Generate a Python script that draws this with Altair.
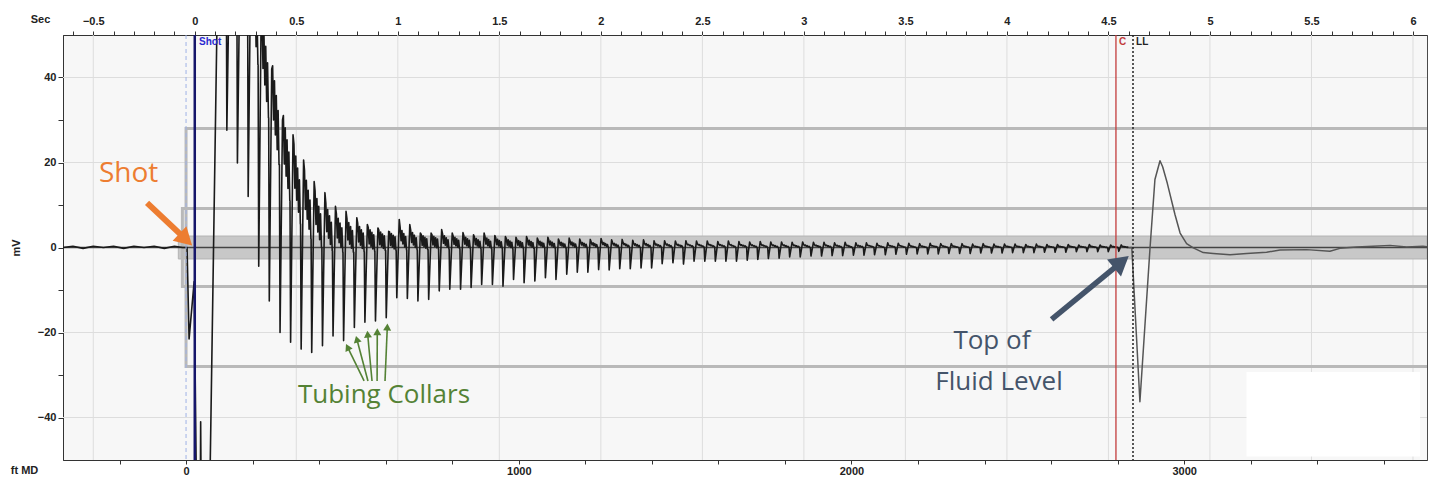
import math
import altair as alt
import pandas as pd

# ---------------- scales / frame ----------------
SEC_DOMAIN = [-0.649, 6.069]
FT_DOMAIN = [-370.0, 3730.0]
MV_DOMAIN = [-50.0, 50.0]
W, H = 1364, 425
PX_T = W / (SEC_DOMAIN[1] - SEC_DOMAIN[0])
PX_V = H / (MV_DOMAIN[1] - MV_DOMAIN[0])

# ---------------- data ----------------
# baseline before the shot (seconds, mV)
pre_t = [-0.649, -0.60, -0.55, -0.50, -0.45, -0.40, -0.35, -0.30, -0.25, -0.20, -0.15, -0.10, -0.06, -0.038]
pre_v = [0.0, 0.3, -0.2, 0.3, 0.0, 0.3, -0.2, 0.3, 0.0, 0.3, -0.2, 0.3, 0.0, 0.0]

# the shot itself (goes off scale)
shot_t = [-0.028, -0.003, 0.011, 0.026, 0.029, 0.033, 0.070, 0.115]
shot_v = [-21.5, -8.0, -70.0, -70.0, -41.0, -70.0, -70.0, 70.0]

# tubing collar reflections: time, spike minimum, rebound peak, level after, noise half-width
collar_t = [
    0.158, 0.210, 0.263, 0.315, 0.367, 0.420, 0.472, 0.524, 0.576, 0.629,
    0.681, 0.733, 0.786, 0.838, 0.890, 0.943, 0.995, 1.047, 1.099, 1.152,
    1.204, 1.256, 1.309, 1.361, 1.413, 1.466, 1.518, 1.570, 1.622, 1.675,
    1.727, 1.779, 1.832, 1.884, 1.936, 1.989, 2.041, 2.093, 2.145, 2.198,
    2.250, 2.302, 2.355, 2.407, 2.459, 2.512, 2.564, 2.616, 2.668, 2.721,
    2.773, 2.825, 2.878, 2.930, 2.982, 3.035, 3.087, 3.139, 3.191, 3.244,
    3.296, 3.348, 3.401, 3.453, 3.505, 3.558, 3.610, 3.662, 3.714, 3.767,
    3.819, 3.871, 3.924, 3.976, 4.028, 4.081, 4.133, 4.185, 4.237, 4.290,
    4.342, 4.394, 4.447, 4.499, 4.551]
collar_min = [
    27.6, 19.9, 12.0, -4.4, -12.6, -20.0, -22.3, -23.9, -24.7, -23.1,
    -20.8, -21.9, -18.8, -17.6, -17.3, -16.5, -11.8, -12.0, -12.6, -12.2,
    -10.2, -9.8, -9.8, -9.4, -8.7, -8.7, -9.1, -7.5, -8.3, -7.9,
    -7.1, -7.5, -6.3, -5.8, -5.8, -5.2, -5.3, -5.0, -5.0, -4.8,
    -4.8, -3.8, -3.6, -3.9, -3.2, -3.2, -3.2, -3.2, -3.2, -3.0,
    -2.8, -2.6, -2.5, -2.2, -2.2, -2.0, -2.0, -1.9, -1.9, -1.8,
    -1.8, -1.7, -1.7, -1.6, -1.6, -1.5, -1.5, -1.5, -1.4, -1.4,
    -1.4, -1.3, -1.3, -1.3, -1.2, -1.2, -1.2, -1.1, -1.1, -1.1,
    -1.0, -1.0, -1.0, -1.0, -0.9]
collar_peak = [
    65, 65, 65, 55, 42, 30, 26.5, 20.6, 15.5, 12.9,
    9.7, 8.5, 7.0, 5.4, 4.6, 3.8, 6.6, 5.4, 3.4, 3.4,
    4.2, 3.4, 3.5, 3.0, 3.4, 2.8, 2.6, 2.4, 2.6, 2.2,
    2.4, 2.0, 2.2, 2.0, 1.9, 2.1, 1.8, 1.9, 1.7, 1.8,
    1.6, 1.6, 1.5, 1.6, 1.5, 1.5, 1.4, 1.5, 1.4, 1.3,
    1.4, 1.3, 1.3, 1.2, 1.3, 1.2, 1.2, 1.1, 1.2, 1.1,
    1.1, 1.0, 1.1, 1.0, 1.0, 0.9, 1.0, 0.9, 0.9, 0.9,
    0.8, 0.9, 0.8, 0.8, 0.8, 0.7, 0.8, 0.7, 0.7, 0.7,
    0.6, 0.7, 0.6, 0.6, 0.6]
collar_band = [
    65, 65, 48, 36, 25, 16, 10, 6.0, 3.5, 2.2,
    1.5, 1.2, 1.0, 0.9, 0.9, 0.8, 0.8, 0.7, 0.7, 0.7,
    0.6, 0.6, 0.6, 0.5, 0.5, 0.5, 0.4, 0.4, 0.4, 0.4,
    0.3, 0.3, 0.3, 0.3, 0.3, 0.3, 0.2, 0.2, 0.2, 0.2,
    0.2, 0.2, 0.2, 0.2, 0.2, 0.2, 0.2, 0.1, 0.2, 0.1,
    0.1, 0.1, 0.1, 0.1, 0.1, 0.1, 0.1, 0.1, 0.0, 0.1,
    0.1, 0.0, 0.1, 0.0, 0.0, 0.0, 0.1, 0.0, 0.0, 0.0,
    0.0, 0.0, 0.0, 0.0, 0.0, 0.0, 0.0, 0.0, 0.0, 0.0,
    0.0, 0.0, 0.0, 0.0, 0.0]
collar_noise = [
    0, 0, 5.0, 5.5, 5.5, 5.0, 4.5, 4.0, 3.5, 3.0,
    2.6, 2.3, 2.0, 1.8, 1.6, 1.5, 1.4, 1.3, 1.2, 1.1,
    1.0, 0.9, 0.9, 0.8, 0.8, 0.7, 0.7, 0.6, 0.6, 0.5,
    0.5, 0.4, 0.4, 0.35, 0.3, 0.3, 0.25, 0.2, 0.2, 0.2,
    0.15, 0.15, 0.15, 0.1, 0.1, 0.1, 0.1, 0.1, 0.1, 0.1,
    0.1, 0.1, 0.1, 0.1, 0.1, 0.1, 0.1, 0.1, 0.1, 0.1,
    0.05, 0.05, 0.05, 0.05, 0.05, 0.05, 0.05, 0.05, 0.05, 0.05,
    0.05, 0.05, 0.05, 0.05, 0.05, 0.05, 0.05, 0.05, 0.05, 0.05,
    0.05, 0.05, 0.05, 0.05, 0.05]

# liquid level echo and tail
echo_t = [4.615, 4.655, 4.705, 4.729, 4.754, 4.767, 4.790, 4.828, 4.853, 4.885, 4.918,
          4.967, 5.016, 5.099, 5.181, 5.279, 5.345, 5.476, 5.591, 5.640, 5.723, 5.803,
          5.887, 5.969, 6.049, 6.069]
echo_v = [0.0, -36.3, 0.0, 16.0, 20.4, 19.0, 15.1, 7.7, 3.4, 0.9, -0.1,
          -1.2, -1.4, -1.7, -1.4, -1.1, -0.6, -0.5, -0.9, -0.2, 0.1, 0.3,
          0.5, 0.1, 0.3, 0.2]

# reference lines
grid_sec = [-0.5, 0.0, 0.5, 1.0, 1.5, 2.0, 2.5, 3.0, 3.5, 4.0, 4.5, 5.0, 5.5, 6.0]
grid_mv = [-40, -20, 20, 40]
marker_t = {"pre": -0.043, "Shot": 0.0, "C": 4.537, "LL": 4.621}

# gray boxes (left edge in s, top / bottom in mV)
band_box = {"t0": [-0.081], "top": [2.7], "bot": [-2.7]}
outline_box = {"t0": [-0.061, -0.043], "top": [9.2, 28.0], "bot": [-9.2, -28.0]}
white_box = {"t0": [5.18], "t1": [6.035], "top": [-29.3], "bot": [-49.2]}

# annotations
shot_arrow = ([(-0.235, 10.5)], [(-0.013, 0.5)])
fluid_arrow = ([(4.220, -16.9)], [(4.600, -2.0)])
collar_arrow = ([(0.834, -31.4), (0.853, -31.4), (0.873, -31.4), (0.898, -31.4), (0.937, -31.4)],
                [(0.745, -22.7), (0.794, -20.8), (0.850, -19.6), (0.899, -19.0), (0.949, -17.9)])

# ---------------- build trace ----------------
pts = list(zip(pre_t, pre_v)) + list(zip(shot_t, shot_v))
prev_band = 65.0
for t, mn, pk, b, w in zip(collar_t, collar_min, collar_peak, collar_band, collar_noise):
    pts.append((t - 0.003, pts[-1][1]))
    pts.append((t, mn))
    pts.append((t + 0.012, pk))
    # ringing after each collar echo settles from the rebound toward the band level
    start = (pk + prev_band) / 2
    for j in range(1, 9):
        c = start + (b - start) * j / 8
        pts.append((t + 0.012 + 0.0045 * j, c + (w if j % 2 else -w)))
    prev_band = b
trace = pd.DataFrame({"t": [p[0] for p in pts], "v": [p[1] for p in pts],
                      "i": list(range(len(pts)))})
echo_pts = [pts[-1]] + list(zip(echo_t, echo_v))
echo = pd.DataFrame({"t": [p[0] for p in echo_pts], "v": [p[1] for p in echo_pts],
                     "i": list(range(len(echo_pts)))})

# ---------------- helpers ----------------
sec_scale = alt.Scale(domain=SEC_DOMAIN, nice=False, zero=False)
mv_scale = alt.Scale(domain=MV_DOMAIN, nice=False, zero=False)
FONT_AX = "Liberation Sans"
FONT_ANN = "Open Sans"


def X(f="t"):
    return alt.X(f"{f}:Q", scale=sec_scale, axis=None)


def Y(f="v"):
    return alt.Y(f"{f}:Q", scale=mv_scale, axis=None)


def arrow_frames(starts, tips, back):
    shafts, heads = [], []
    for (t0, v0), (t1, v1) in zip(starts, tips):
        dx = (t1 - t0) * PX_T
        dy = -(v1 - v0) * PX_V
        L = math.hypot(dx, dy)
        ux, uy = dx / L, dy / L
        tc = t1 - ux * back / PX_T
        vc = v1 + uy * back / PX_V
        ang = math.degrees(math.atan2(ux, -uy)) % 360
        shafts.append({"t": t0, "v": v0, "t2": tc, "v2": vc})
        heads.append({"t": tc, "v": vc, "ang": ang})
    return pd.DataFrame(shafts), pd.DataFrame(heads)


def arrow_layers(spec, color, width, side):
    shafts, heads = arrow_frames(spec[0], spec[1], 0.433 * side)
    shaft = alt.Chart(shafts).mark_rule(color=color, strokeWidth=width, strokeCap="butt").encode(
        x=X(), y=Y(), x2="t2:Q", y2="v2:Q")
    head = alt.Chart(heads).mark_point(shape="triangle-up", filled=True, color=color, opacity=1,
                                       size=side * side, strokeWidth=0).encode(
        x=X(), y=Y(), angle=alt.Angle("ang:Q", scale=None))
    return [shaft, head]


# ---------------- axes ----------------
top_ticks = [round(-0.6 + 0.1 * i, 1) for i in range(67)]
axis_top = alt.Axis(
    orient="top", values=top_ticks, grid=False,
    labelExpr="abs(datum.value*2 - round(datum.value*2)) < 0.001 ? format(datum.value, '~g') : ''",
    tickSize=4, tickColor="#333", domainColor="#333",
    labelFont=FONT_AX, labelFontSize=11, labelFontWeight="bold", labelColor="#222",
    labelPadding=5, labelFlush=False, labelOverlap=False,
    title="Sec", titleAngle=0, titleX=-23, titleY=-16, titleAlign="center", titleBaseline="middle",
    titleFont=FONT_AX, titleFontSize=11, titleFontWeight="bold", titleColor="#222")

axis_left = alt.Axis(
    orient="left", values=list(range(-40, 50, 10)), grid=False,
    labelExpr="datum.value % 20 == 0 ? format(datum.value, 'd') : ''",
    tickSize=5, tickColor="#333", domainColor="#333",
    labelFont=FONT_AX, labelFontSize=11, labelFontWeight="bold", labelColor="#222",
    labelPadding=2, labelOverlap=False,
    title="mV", titleAngle=270, titleX=-47, titleY=H / 2, titleAlign="center", titleBaseline="middle",
    titleFont=FONT_AX, titleFontSize=11, titleFontWeight="bold", titleColor="#222")

axis_bottom = alt.Axis(
    orient="bottom", values=list(range(-200, 3800, 200)), grid=False,
    labelExpr="datum.value % 1000 == 0 ? format(datum.value, 'd') : ''",
    tickSize=4, tickColor="#333", domainColor="#333",
    labelFont=FONT_AX, labelFontSize=11, labelFontWeight="bold", labelColor="#222",
    labelPadding=1, labelOverlap=False, labelFlush=False,
    title="ft MD", titleAngle=0, titleX=-39, titleY=10, titleAlign="center", titleBaseline="middle",
    titleFont=FONT_AX, titleFontSize=11, titleFontWeight="bold", titleColor="#222")

# ---------------- layers ----------------
layers = []
layers.append(alt.Chart(pd.DataFrame({"t": grid_sec})).mark_rule(color="#dddddd", strokeWidth=1).encode(x=X()))
layers.append(alt.Chart(pd.DataFrame({"v": grid_mv})).mark_rule(color="#dddddd", strokeWidth=1).encode(y=Y()))

band_df = pd.DataFrame(band_box)
band_df["t1"] = SEC_DOMAIN[1]
layers.append(alt.Chart(band_df).mark_rect(fill="#c8c8c8", stroke="#b4b4b4", strokeWidth=1, clip=True).encode(
    x=X("t0"), x2="t1:Q", y=Y("top"), y2="bot:Q"))
out_df = pd.DataFrame(outline_box)
out_df["t1"] = SEC_DOMAIN[1] + 0.02
layers.append(alt.Chart(out_df).mark_rect(fillOpacity=0, stroke="#b9b9b9", strokeWidth=3, clip=True).encode(
    x=X("t0"), x2="t1:Q", y=Y("top"), y2="bot:Q"))
layers.append(alt.Chart(pd.DataFrame(white_box)).mark_rect(fill="white", clip=True).encode(
    x=X("t0"), x2="t1:Q", y=Y("top"), y2="bot:Q"))
layers.append(alt.Chart(pd.DataFrame({"v": [0.0]})).mark_rule(color="#444444", strokeWidth=1.3).encode(y=Y()))

# the trace carries the top (seconds) and left (mV) axes
layers.append(alt.Chart(trace).mark_line(color="#1a1a1a", strokeWidth=1.6, clip=True, strokeJoin="round").encode(
    x=alt.X("t:Q", scale=sec_scale, axis=axis_top),
    y=alt.Y("v:Q", scale=mv_scale, axis=axis_left),
    order="i:Q"))
layers.append(alt.Chart(echo).mark_line(color="#555555", strokeWidth=1.5, clip=True, strokeJoin="round").encode(
    x=X(), y=Y(), order="i:Q"))

# event marker lines
layers.append(alt.Chart(pd.DataFrame({"t": [marker_t["pre"]]})).mark_rule(
    color="#9fb2e6", strokeWidth=1, strokeDash=[4, 3]).encode(x=X()))
layers.append(alt.Chart(pd.DataFrame({"t": [marker_t["Shot"]]})).mark_rule(
    color="#16166a", strokeWidth=2.5).encode(x=X()))
layers.append(alt.Chart(pd.DataFrame({"t": [marker_t["C"]]})).mark_rule(
    color="#c23b3b", strokeWidth=1.3).encode(x=X()))
layers.append(alt.Chart(pd.DataFrame({"t": [marker_t["LL"]]})).mark_rule(
    color="#222222", strokeWidth=1.5, strokeDash=[2, 2]).encode(x=X()))

lab = [("Shot", 0.021, "#2a2ad0"), ("C", 4.552, "#c23b3b"), ("LL", 4.636, "#222222")]
for txt, tt, col in lab:
    layers.append(alt.Chart(pd.DataFrame({"t": [tt], "v": [48.3], "label": [txt]})).mark_text(
        font=FONT_AX, fontSize=10, fontWeight="bold", color=col, align="left", baseline="middle").encode(
        x=X(), y=Y(), text="label:N"))

# annotation arrows
layers += arrow_layers(shot_arrow, "#ED7D31", 6, 20)
layers += arrow_layers(fluid_arrow, "#44546A", 5.5, 22)
layers += arrow_layers(collar_arrow, "#548235", 1.6, 8)

# annotation texts
ann = [("Shot", -0.326, 15.5, "#ED7D31", 28),
       ("Tubing Collars", 0.932, -36.5, "#548235", 26),
       ("Top of", 3.926, -23.9, "#44546A", 26),
       ("Fluid Level", 3.961, -33.5, "#44546A", 26)]
for txt, tt, vv, col, fs in ann:
    layers.append(alt.Chart(pd.DataFrame({"t": [tt], "v": [vv], "label": [txt]})).mark_text(
        font=FONT_ANN, fontSize=fs, color=col, align="center", baseline="alphabetic").encode(
        x=X(), y=Y(), text="label:N"))

# invisible layer that carries the bottom (ft MD) axis on its own x scale
ft_layer = alt.Chart(pd.DataFrame({"ft": [0.0]})).mark_point(opacity=0).encode(
    x=alt.X("ft:Q", scale=alt.Scale(domain=FT_DOMAIN, nice=False, zero=False), axis=axis_bottom))

chart = alt.layer(*layers, ft_layer).resolve_scale(x="independent", y="independent").properties(
    width=W, height=H,
    autosize=alt.AutoSizeParams(type="none"),
    padding={"left": 55, "top": 27, "right": 5, "bottom": 20},
    background="white",
).configure_view(fill="#f7f7f7", stroke="#4a4a4a", strokeWidth=1)

chart.save("out.html", embed_options={"renderer": "svg", "actions": False})
